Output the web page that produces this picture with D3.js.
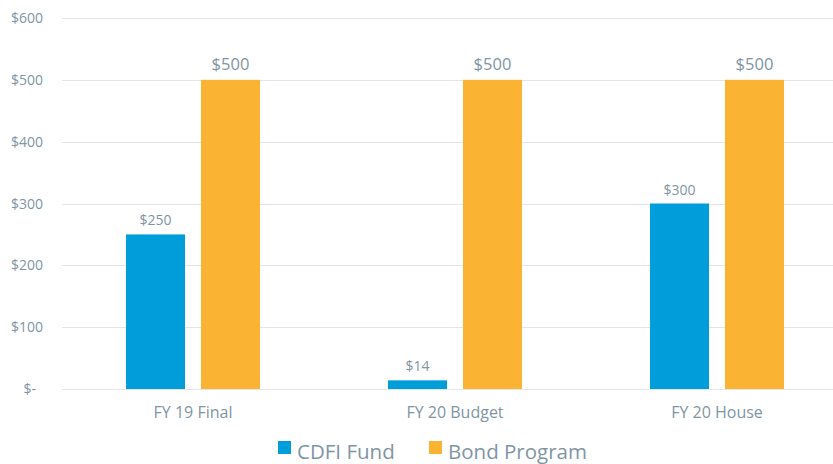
<!DOCTYPE html>
<html><head><meta charset="utf-8">
<script src="https://cdn.jsdelivr.net/npm/d3@7"></script>
<style>body{margin:0;background:#fff;} svg{display:block;font-family:"Open Sans",sans-serif;}</style>
</head><body>
<svg id="c" width="833" height="464"></svg>
<script>
const categories = ["FY 19 Final", "FY 20 Budget", "FY 20 House"];
const seriesNames = ["CDFI Fund", "Bond Program"];
const cdfiFund = [250, 14, 300];
const bondProgram = [500, 500, 500];
const tickValues = [0, 100, 200, 300, 400, 500, 600];
const tickLabels = ["$-", "$100", "$200", "$300", "$400", "$500", "$600"];
const colors = ["#009ddb", "#fbb334"];

const svg = d3.select("#c");
const y = d3.scaleLinear().domain([0, 600]).range([389, 18]);
const x0 = d3.scaleBand().domain(categories).range([62, 848]);
const x1 = d3.scaleBand().domain(seriesNames).range([-67, 67]).paddingInner(0.213);
const textColor = "#8095a3";

// gridlines
svg.append("g").selectAll("line").data(tickValues).join("line")
  .attr("x1", 62).attr("x2", 833)
  .attr("y1", d => Math.round(y(d)) + 0.5).attr("y2", d => Math.round(y(d)) + 0.5)
  .attr("stroke", "#e3e6e8").attr("stroke-width", 1);

// y tick labels
svg.append("g").selectAll("text").data(tickValues).join("text")
  .attr("x", (d) => d === 0 ? 36 : 43)
  .attr("y", d => y(d) + 5)
  .attr("text-anchor", "end")
  .attr("font-size", 14).attr("fill", textColor)
  .text((d, i) => tickLabels[i]);

const data = categories.map((c, i) => ({cat: c, vals: [cdfiFund[i], bondProgram[i]]}));

const groups = svg.append("g").selectAll("g").data(data).join("g")
  .attr("transform", d => `translate(${x0(d.cat) + x0.bandwidth() / 2},0)`);

groups.selectAll("rect").data(d => d.vals.map((v, j) => ({s: seriesNames[j], v, j}))).join("rect")
  .attr("x", d => x1(d.s)).attr("width", x1.bandwidth())
  .attr("y", d => y(d.v)).attr("height", d => y(0) - y(d.v))
  .attr("fill", d => colors[d.j]);

groups.selectAll("text.v").data(d => d.vals.map((v, j) => ({s: seriesNames[j], v, j}))).join("text")
  .attr("class", "v")
  .attr("x", d => x1(d.s) + x1.bandwidth() / 2)
  .attr("y", d => y(d.v) - (d.j === 1 ? 10 : 9))
  .attr("text-anchor", "middle")
  .attr("font-size", d => d.j === 1 ? 16.5 : 14)
  .attr("fill", textColor)
  .text(d => "$" + d.v);

// category labels
svg.append("g").selectAll("text").data(categories).join("text")
  .attr("x", d => x0(d) + x0.bandwidth() / 2).attr("y", 418)
  .attr("text-anchor", "middle").attr("font-size", 16).attr("fill", textColor)
  .text(d => d);

// legend
const legendX = [278, 429];
const lg = svg.append("g").selectAll("g").data(seriesNames).join("g")
  .attr("transform", (d, i) => `translate(${legendX[i]},0)`);
lg.append("rect").attr("x", 0).attr("y", 441).attr("width", 13).attr("height", 13)
  .attr("fill", (d, i) => colors[i]);
lg.append("text").attr("x", 19).attr("y", 459).attr("font-size", 20.5).attr("fill", textColor)
  .text(d => d);
</script>
</body></html>
